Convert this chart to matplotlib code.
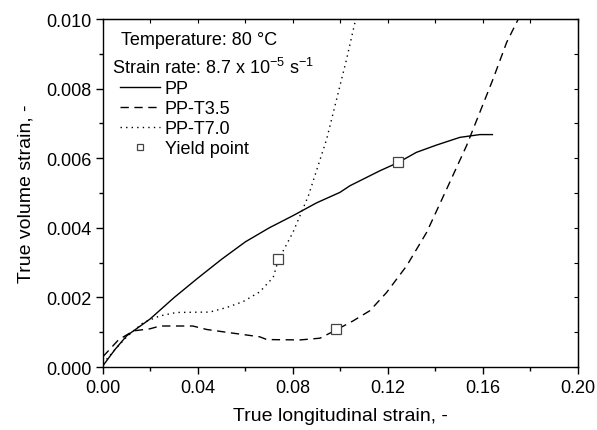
import numpy as np
import matplotlib
matplotlib.use("Agg")
import matplotlib.pyplot as plt
from matplotlib.lines import Line2D
from matplotlib.ticker import MultipleLocator

plt.rcParams['font.family'] = ['Liberation Sans', 'DejaVu Sans']
plt.rcParams['mathtext.default'] = 'regular'

# PP (solid)
pp_x = [0.0, 0.005, 0.010, 0.0198, 0.030, 0.040, 0.050, 0.060, 0.070, 0.080, 0.090,
        0.0998, 0.104, 0.1166, 0.1244, 0.132, 0.1405, 0.1503, 0.1587, 0.164]
pp_y = [0.00004, 0.0005, 0.0009, 0.00138, 0.0020, 0.00256, 0.0031, 0.0036, 0.0040, 0.00435,
        0.00472, 0.00502, 0.00521, 0.00564, 0.00588, 0.00617, 0.00638, 0.0066, 0.00668, 0.00668]

# PP-T3.5 (dashed)
t35_x = [0.0, 0.0065, 0.0128, 0.0198, 0.024, 0.0378, 0.0437, 0.052, 0.066, 0.069, 0.083,
         0.0914, 0.098, 0.1054, 0.1124, 0.1194, 0.1279, 0.1363, 0.1447, 0.1531, 0.1587,
         0.1643, 0.170, 0.1749]
t35_y = [0.0003, 0.00078, 0.00104, 0.0011, 0.00118, 0.00118, 0.00108, 0.0010, 0.00087, 0.00079,
         0.00078, 0.00083, 0.00106, 0.00133, 0.00162, 0.00214, 0.00291, 0.00387, 0.00511,
         0.00636, 0.00732, 0.00828, 0.00933, 0.0100]

# PP-T7.0 (dotted)
t70_x = [0.0, 0.005, 0.010, 0.017, 0.024, 0.031, 0.045, 0.052, 0.059, 0.066, 0.0717, 0.0738,
         0.080, 0.0865, 0.0942, 0.0984, 0.1026, 0.1061]
t70_y = [0.0001, 0.0005, 0.00087, 0.00128, 0.00147, 0.00157, 0.00158, 0.00171, 0.00188, 0.00216,
         0.00258, 0.00307, 0.00387, 0.00492, 0.00655, 0.0077, 0.00885, 0.0099]

# yield points
yield_x = [0.1244, 0.098, 0.0738]
yield_y = [0.0059, 0.0011, 0.0031]

fig = plt.figure(figsize=(5.97, 4.31), dpi=100)
ax = fig.add_axes([0.1725, 0.146, 0.7955, 0.8075])

dash = (0, (6, 4))
dot = (0, (1, 3))
ax.plot(pp_x, pp_y, 'k-', lw=1)
ax.plot(t35_x, t35_y, 'k', ls=dash, lw=1)
ax.plot(t70_x, t70_y, 'k', ls=dot, lw=1)
ax.plot(yield_x, yield_y, 's', mfc='white', mec='#444444', ms=7, mew=0.9, ls='none')

ax.set_xlim(0, 0.20)
ax.set_ylim(0, 0.010)
ax.xaxis.set_major_locator(MultipleLocator(0.04))
ax.xaxis.set_minor_locator(MultipleLocator(0.02))
ax.yaxis.set_major_locator(MultipleLocator(0.002))
ax.yaxis.set_minor_locator(MultipleLocator(0.001))
ax.xaxis.set_major_formatter(plt.FormatStrFormatter('%.2f'))
ax.yaxis.set_major_formatter(plt.FormatStrFormatter('%.3f'))
ax.tick_params(which='major', direction='out', length=5, width=1, labelsize=13)
ax.tick_params(which='minor', direction='out', length=3, width=1)

top = ax.secondary_xaxis('top')
top.xaxis.set_major_locator(MultipleLocator(0.02))
top.tick_params(direction='in', length=3, labeltop=False)
right = ax.secondary_yaxis('right')
right.yaxis.set_major_locator(MultipleLocator(0.001))
right.tick_params(direction='in', length=3, labelright=False)

for s in ax.spines.values():
    s.set_linewidth(1)

ax.set_xlabel('True longitudinal strain, -', fontsize=14, labelpad=8)
ax.set_ylabel('True volume strain, -', fontsize=14, labelpad=8)

ax.text(0.038, 0.927, 'Temperature: 80 °C', transform=ax.transAxes, fontsize=13)
ax.text(0.018, 0.844, 'Strain rate: 8.7 x 10$^{-5}$ s$^{-1}$', transform=ax.transAxes, fontsize=13)

handles = [
    Line2D([], [], color='k', lw=1),
    Line2D([], [], color='k', lw=1, ls=dash),
    Line2D([], [], color='k', lw=1, ls=dot),
    Line2D([], [], marker='s', mfc='white', mec='#444444', ms=5, mew=0.9, ls='none'),
]
labels = ['PP', 'PP-T3.5', 'PP-T7.0', 'Yield point']
ax.legend(handles, labels, loc='upper left', bbox_to_anchor=(0.017, 0.85), frameon=False,
          fontsize=13, handlelength=2.2, handletextpad=0.28, labelspacing=0.17,
          borderpad=0.2, borderaxespad=0.3)

fig.savefig('out.png', dpi=100)
